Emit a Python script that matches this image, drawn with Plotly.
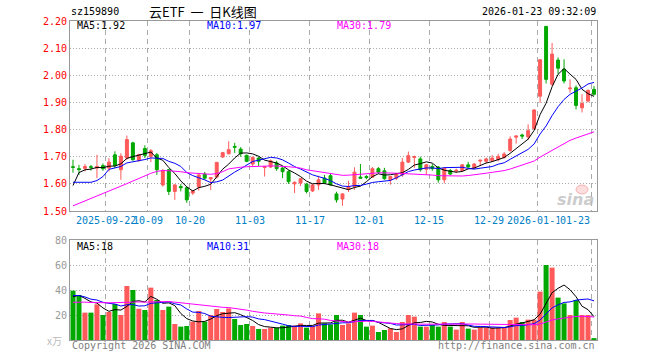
import plotly.graph_objects as go
import pandas as pd
import numpy as np

# ---------------- data ----------------
holidays = ["2025-10-01", "2025-10-02", "2025-10-03", "2025-10-06", "2025-10-07",
            "2025-10-08", "2026-01-01", "2026-01-02"]
dates = [d.strftime("%Y-%m-%d") for d in pd.bdate_range("2025-09-12", "2026-01-23")
         if d.strftime("%Y-%m-%d") not in holidays]

opens = [1.663, 1.656, 1.657, 1.663, 1.658, 1.667, 1.658, 1.707, 1.652, 1.695,
         1.751, 1.686, 1.730, 1.701, 1.707, 1.596, 1.652, 1.572, 1.590, 1.586,
         1.566, 1.588, 1.636, 1.618, 1.625, 1.699, 1.711, 1.738, 1.728, 1.705,
         1.673, 1.695, 1.660, 1.662, 1.677, 1.658, 1.645, 1.600, 1.603, 1.599,
         1.574, 1.596, 1.621, 1.630, 1.563, 1.544, 1.580, 1.590, 1.625, 1.627,
         1.625, 1.656, 1.648, 1.615, 1.621, 1.633, 1.680, 1.697, 1.692, 1.654,
         1.664, 1.662, 1.615, 1.649, 1.647, 1.649, 1.670, 1.658, 1.684, 1.683,
         1.686, 1.689, 1.697, 1.723, 1.772, 1.780, 1.773, 1.803, 1.923, 2.180,
         1.967, 2.056, 2.022, 1.950, 1.954, 1.880, 1.905, 1.948]
highs = [1.689, 1.670, 1.673, 1.670, 1.707, 1.675, 1.695, 1.720, 1.713, 1.778,
         1.755, 1.711, 1.742, 1.728, 1.714, 1.655, 1.655, 1.600, 1.599, 1.590,
         1.578, 1.641, 1.644, 1.625, 1.681, 1.718, 1.757, 1.751, 1.735, 1.708,
         1.701, 1.701, 1.665, 1.690, 1.685, 1.662, 1.650, 1.608, 1.622, 1.603,
         1.600, 1.630, 1.633, 1.640, 1.571, 1.566, 1.611, 1.661, 1.673, 1.632,
         1.662, 1.662, 1.659, 1.628, 1.640, 1.695, 1.719, 1.704, 1.700, 1.673,
         1.673, 1.665, 1.661, 1.655, 1.656, 1.673, 1.681, 1.677, 1.689, 1.697,
         1.706, 1.711, 1.717, 1.775, 1.779, 1.785, 1.819, 1.875, 2.060, 2.182,
         2.119, 2.066, 2.059, 1.985, 1.963, 1.930, 1.948, 1.960]
lows = [1.641, 1.633, 1.646, 1.649, 1.621, 1.648, 1.645, 1.658, 1.615, 1.689,
        1.685, 1.680, 1.695, 1.680, 1.633, 1.590, 1.559, 1.541, 1.572, 1.530,
        1.559, 1.575, 1.615, 1.577, 1.620, 1.695, 1.708, 1.714, 1.700, 1.680,
        1.666, 1.666, 1.627, 1.658, 1.648, 1.621, 1.600, 1.566, 1.592, 1.565,
        1.570, 1.578, 1.600, 1.594, 1.531, 1.519, 1.570, 1.578, 1.620, 1.617,
        1.622, 1.636, 1.615, 1.597, 1.614, 1.626, 1.677, 1.659, 1.645, 1.633,
        1.648, 1.604, 1.602, 1.633, 1.640, 1.645, 1.659, 1.655, 1.667, 1.675,
        1.681, 1.683, 1.693, 1.718, 1.748, 1.765, 1.762, 1.800, 1.899, 1.970,
        1.961, 2.004, 1.970, 1.936, 1.874, 1.863, 1.900, 1.926]
closes = [1.661, 1.653, 1.664, 1.661, 1.664, 1.656, 1.680, 1.668, 1.702, 1.763,
          1.689, 1.707, 1.705, 1.722, 1.652, 1.649, 1.572, 1.596, 1.586, 1.541,
          1.574, 1.633, 1.621, 1.623, 1.679, 1.715, 1.726, 1.735, 1.711, 1.683,
          1.697, 1.683, 1.663, 1.685, 1.656, 1.645, 1.608, 1.606, 1.619, 1.572,
          1.596, 1.615, 1.603, 1.596, 1.541, 1.563, 1.590, 1.643, 1.621, 1.623,
          1.656, 1.643, 1.619, 1.627, 1.636, 1.680, 1.704, 1.700, 1.652, 1.670,
          1.656, 1.615, 1.658, 1.636, 1.650, 1.670, 1.662, 1.673, 1.687, 1.692,
          1.695, 1.701, 1.710, 1.765, 1.776, 1.776, 1.796, 1.872, 2.057, 1.985,
          2.078, 2.026, 1.979, 1.953, 1.889, 1.896, 1.944, 1.930]
volumes = [39.5, 36.0, 21.9, 21.9, 28.5, 20.0, 22.4, 28.8, 20.0, 43.2,
           40.0, 25.0, 24.0, 41.9, 32.0, 24.0, 26.7, 12.8, 10.7, 11.2,
           14.7, 23.2, 14.7, 20.0, 24.8, 22.4, 25.3, 16.8, 12.0, 12.8,
           11.2, 8.8, 8.8, 9.9, 9.9, 11.5, 12.0, 11.5, 13.3, 9.9,
           11.5, 21.3, 13.3, 12.5, 20.0, 12.0, 13.3, 21.9, 20.0, 10.7,
           11.5, 6.4, 8.0, 9.3, 6.4, 14.4, 20.0, 18.7, 10.7, 10.7,
           12.0, 10.7, 14.4, 10.7, 8.3, 14.4, 9.1, 8.3, 9.9, 9.9,
           9.9, 9.9, 9.9, 16.0, 17.9, 14.4, 16.3, 16.3, 38.7, 60.0,
           57.9, 33.9, 29.3, 20.0, 32.0, 20.0, 20.0, 1.5]

# closes / volumes of the 29 sessions before the window (estimated from the
# starting values of the moving-average lines)
prior_closes = [1.39, 1.40, 1.38, 1.41, 1.40, 1.42, 1.41, 1.43, 1.42, 1.40,
                1.41, 1.43, 1.44, 1.44, 1.55, 1.60, 1.63, 1.66, 1.64, 1.652,
                1.654, 1.664, 1.662, 1.60, 1.51, 1.414, 1.614, 1.647, 1.633]
prior_volumes = [25, 27, 31, 24, 29, 26, 22, 28, 33, 27, 25, 30, 32, 28, 26,
                 23, 29, 31, 25, 27, 36, 33, 40, 35, 38, 31, 34, 36, 33]

tick_dates = ["2025-09-22", "2025-10-09", "2025-10-20", "2025-11-03", "2025-11-17",
              "2025-12-01", "2025-12-15", "2025-12-29", "2026-01-12", "2026-01-23"]
tick_labels = ["2025-09-22", "10-09", "10-20", "11-03", "11-17",
               "12-01", "12-15", "12-29", "2026-01-12", "01-23"]
price_ticks = [1.50, 1.60, 1.70, 1.80, 1.90, 2.00, 2.10, 2.20]
volume_ticks = [20, 40, 60, 80]

# ---------------- derived ----------------
n = len(dates)
xs = list(range(n))
all_c = prior_closes + closes
all_v = prior_volumes + volumes
off = len(prior_closes)


def ma(arr, w):
    return [float(np.mean(arr[off + i - w + 1: off + i + 1])) for i in range(n)]


ma5, ma10, ma30 = ma(all_c, 5), ma(all_c, 10), ma(all_c, 30)
vma5, vma10, vma30 = ma(all_v, 5), ma(all_v, 10), ma(all_v, 30)

RED = "#ff5a5a"
GREEN = "#00a800"
MONO = "DejaVu Sans Mono"
vol_colors = [RED if c >= o else GREEN for o, c in zip(opens, closes)]
tick_pos = [dates.index(d) - 0.5 for d in tick_dates]

fig = go.Figure()
fig.add_trace(go.Candlestick(
    x=xs, open=opens, high=highs, low=lows, close=closes,
    increasing=dict(line=dict(color=RED, width=1), fillcolor=RED),
    decreasing=dict(line=dict(color=GREEN, width=1), fillcolor=GREEN),
    hoverinfo="skip", xaxis="x", yaxis="y", showlegend=False))
for vals, col in [(ma5, "black"), (ma10, "#0000ff"), (ma30, "#ff00ff")]:
    fig.add_trace(go.Scatter(x=xs, y=vals, mode="lines", line=dict(color=col, width=1),
                             hoverinfo="skip", showlegend=False, xaxis="x", yaxis="y"))
fig.add_trace(go.Bar(x=xs, y=volumes, marker=dict(color=vol_colors, line=dict(width=0)),
                     width=0.84, hoverinfo="skip", showlegend=False, xaxis="x2", yaxis="y2"))
for vals, col in [(vma5, "black"), (vma10, "#0000ff"), (vma30, "#ff00ff")]:
    fig.add_trace(go.Scatter(x=xs, y=vals, mode="lines", line=dict(color=col, width=1),
                             hoverinfo="skip", showlegend=False, xaxis="x2", yaxis="y2"))

# layout geometry (pixels)
L, R, T, B = 70, 597, 21, 340
W, H = 660, 360
PH = B - T


def xp(px):
    return (px - L) / (R - L)


def yp(py):
    return (B - py) / PH


price_bottom = yp(211)
vol_top = yp(240)

axis_common = dict(showline=True, mirror=True, linecolor="#999999", linewidth=1,
                   zeroline=False, ticks="", fixedrange=True, automargin=False)
xgrid = dict(range=[-0.5, n - 0.5], tickvals=tick_pos, showticklabels=False,
             showgrid=True, gridcolor="#aaaaaa", griddash="5px,4px", gridwidth=1)

fig.update_layout(
    template="none",
    width=W, height=H,
    margin=dict(l=L, r=W - R, t=T, b=H - B, pad=0, autoexpand=False),
    paper_bgcolor="white", plot_bgcolor="white",
    showlegend=False, boxgap=0.3,
    xaxis=dict(domain=[0, 1], anchor="y", rangeslider=dict(visible=False), **xgrid, **axis_common),
    yaxis=dict(domain=[price_bottom, 1], range=[1.5, 2.2], tickvals=price_ticks,
               ticktext=[f"{v:.2f}" for v in price_ticks],
               tickfont=dict(family=MONO, size=10, color="#ff0000"),
               showgrid=True, gridcolor="#aaaaaa", griddash="1px,2px", **axis_common),
    xaxis2=dict(domain=[0, 1], anchor="y2", matches="x", **xgrid, **axis_common),
    yaxis2=dict(domain=[0, vol_top], range=[0, 80], tickvals=volume_ticks,
                tickfont=dict(family=MONO, size=10, color="#999999"),
                showgrid=True, gridcolor="#aaaaaa", griddash="1px,2px", **axis_common),
)

ann = []


def txt(text, x, y, color="black", anchor="left", size=10, family=MONO, xref="paper", **kw):
    d = dict(text=text, x=x, y=y, xref=xref, yref="paper", xanchor=anchor,
             yanchor="middle", showarrow=False,
             font=dict(family=family, size=size, color=color))
    d.update({k: v for k, v in kw.items() if v is not None})
    ann.append(d)


txt("sz159890", xp(69), yp(12))
txt("云ETF\u00a0\u00a0一\u00a0\u00a0日K线图", xp(203), yp(12), anchor="center", size=13,
    family="Noto Sans CJK SC")
txt("2026-01-23 09:32:09", xp(598), yp(12), anchor="right")
txt(f"MA5:{ma5[-1]:.2f}", xp(75), yp(26))
txt(f"MA10:{ma10[-1]:.2f}", xp(205), yp(26), color="#0000ff")
txt(f"MA30:{ma30[-1]:.2f}", xp(335), yp(26), color="#ff00ff")
txt(f"MA5:{int(vma5[-1])}", xp(75), yp(246))
txt(f"MA10:{int(vma10[-1])}", xp(205), yp(246), color="#0000ff")
txt(f"MA30:{int(vma30[-1])}", xp(335), yp(246), color="#ff00ff")
for i, (pos, lab) in enumerate(zip(tick_pos, tick_labels)):
    last = i == len(tick_pos) - 1
    txt(lab, pos, yp(221), color="#0080c8", anchor="right" if last else "center",
        xref="x", bgcolor="white" if last else None, borderpad=0)
txt("x万", xp(64), yp(340), color="#bbbbbb", anchor="right", family="Noto Sans CJK SC")
txt("Copyright 2026 SINA.COM", xp(70), yp(345.5), color="#808080")
txt("http://finance.sina.com.cn", xp(597), yp(345.5), color="#808080", anchor="right")
txt("<b><i>sina</i></b>", xp(596), yp(199), color="rgba(190,190,190,0.8)", anchor="right",
    size=16, family="DejaVu Sans")
fig.update_layout(annotations=ann)
fig.add_shape(type="circle", xref="paper", yref="paper",
              x0=xp(576), x1=xp(588), y0=yp(194), y1=yp(185),
              line=dict(color="rgba(240,140,140,0.6)", width=1),
              fillcolor="rgba(250,190,190,0.5)")

fig.write_html("out.html", config={"displayModeBar": False, "staticPlot": True},
               post_script="document.body.style.margin='0';document.body.style.overflow='hidden';")
